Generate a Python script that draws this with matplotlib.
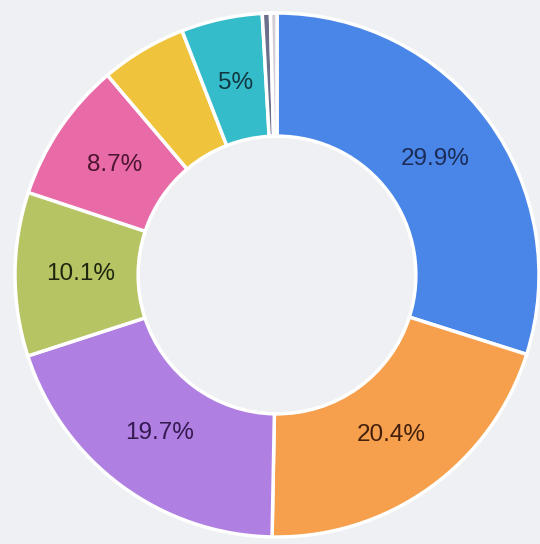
import matplotlib.pyplot as plt
import numpy as np

# slice values, clockwise from 12 o'clock
values = [29.9, 20.4, 19.7, 10.1, 8.7, 5.3, 5.0, 0.5, 0.4]
labels = ['29.9%', '20.4%', '19.7%', '10.1%', '8.7%', '', '5%', '', '']
colors = ['#4a86e8', '#f6a04d', '#b07fe2', '#b6c463', '#e86aa6',
          '#efc43c', '#35bcca', '#6a6f8c', '#d3cdd6']
text_colors = ['#1c2c58', '#44200c', '#33194f', '#1f2610', '#4d1530',
               '#000000', '#10383f', '#000000', '#000000']

bg = '#eef0f3'
W, H = 540, 544
cx, cy, R = 277, 275, 262   # pie centre / radius in pixels

fig = plt.figure(figsize=(W / 100, H / 100), dpi=100, facecolor=bg)
ax = fig.add_axes([0, 0, 1, 1])
ax.set_facecolor(bg)

wedges, _ = ax.pie(values, colors=colors, startangle=90, counterclock=False,
                   radius=1.0,
                   wedgeprops=dict(width=0.47, edgecolor='white', linewidth=2.5))

cum = 0
for v, lab, tc in zip(values, labels, text_colors):
    mid = np.deg2rad(90 - (cum + v / 2) * 3.6)
    cum += v
    if lab:
        r = 0.75
        ax.text(r * np.cos(mid), r * np.sin(mid), lab, ha='center', va='center',
                fontsize=17.5, color=tc, family=['Liberation Sans', 'DejaVu Sans'])

ax.set_xlim(-cx / R, (W - cx) / R)
ax.set_ylim(-(H - cy) / R, cy / R)
ax.set_aspect('auto')
ax.axis('off')

plt.savefig('out.png', dpi=100, facecolor=bg)
